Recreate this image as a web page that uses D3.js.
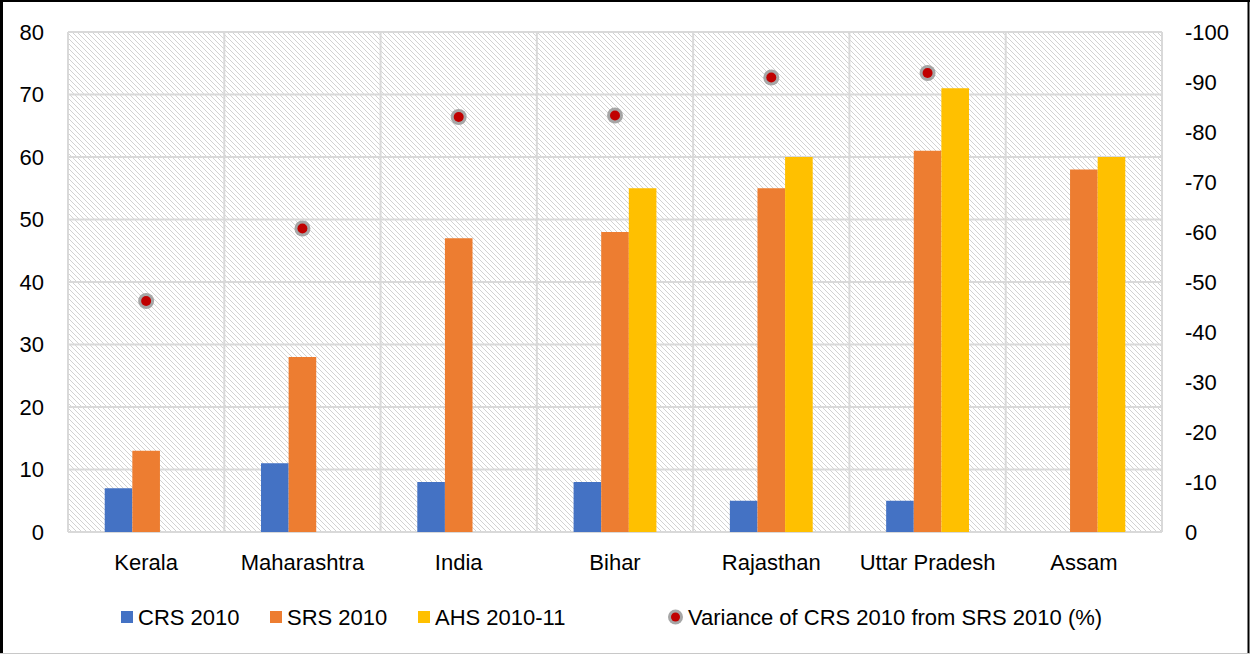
<!DOCTYPE html>
<html>
<head>
<meta charset="utf-8">
<script src="https://cdn.jsdelivr.net/npm/d3@7"></script>
<style>
  html, body { margin: 0; padding: 0; background: #fff; }
  svg { display: block; font-family: "Liberation Sans", Arial, sans-serif; }
</style>
</head>
<body>
<svg id="chart" width="1250" height="654"></svg>
<script>
// Neonatal / infant mortality estimates by source
const categories = ["Kerala", "Maharashtra", "India", "Bihar", "Rajasthan", "Uttar Pradesh", "Assam"];
const crs2010   = [7, 11, 8, 8, 5, 5, null];
const srs2010   = [13, 28, 47, 48, 55, 61, 58];
const ahs201011 = [null, null, null, 55, 60, 71, 60];
const variance  = [-46.2, -60.7, -83.0, -83.3, -90.9, -91.8, null];

const seriesNames = ["CRS 2010", "SRS 2010", "AHS 2010-11"];
const seriesValues = [crs2010, srs2010, ahs201011];
const seriesColors = ["#4472c4", "#ed7d31", "#ffc000"];
const varianceName = "Variance of CRS 2010 from SRS 2010 (%)";

const leftTicks = [0, 10, 20, 30, 40, 50, 60, 70, 80];
const rightTicks = [0, -10, -20, -30, -40, -50, -60, -70, -80, -90, -100];

const svg = d3.select("#chart");
const W = 1250, H = 654;
const plot = { left: 68, right: 1162, top: 32, bottom: 532 };

// outer frame
svg.append("line").attr("x1", 1.5).attr("y1", 0).attr("x2", 1.5).attr("y2", H).attr("stroke", "#000").attr("stroke-width", 3);
svg.append("line").attr("x1", 0).attr("y1", 1).attr("x2", W).attr("y2", 1).attr("stroke", "#000").attr("stroke-width", 2);
svg.append("line").attr("x1", 1248.5).attr("y1", 0).attr("x2", 1248.5).attr("y2", H).attr("stroke", "#000").attr("stroke-width", 2);
svg.append("line").attr("x1", 0).attr("y1", 653.5).attr("x2", W).attr("y2", 653.5).attr("stroke", "#c8c8c8").attr("stroke-width", 1);

// diagonal hatch for the plot background
const defs = svg.append("defs");
const pat = defs.append("pattern")
  .attr("id", "hatch").attr("patternUnits", "userSpaceOnUse")
  .attr("width", 5).attr("height", 5);
pat.append("path")
  .attr("d", "M0,0 L5,5 M-1,4 L1,6 M4,-1 L6,1")
  .attr("stroke", "#d2d2d2").attr("stroke-width", 1).attr("shape-rendering", "crispEdges");

const x0 = d3.scaleBand().domain(categories)
  .range([plot.left, plot.right]).paddingInner(0.47).paddingOuter(0.235);
const x1 = d3.scaleBand().domain(seriesNames).range([0, x0.bandwidth()]);
const xCat = d3.scaleBand().domain(categories).range([plot.left, plot.right]);
const yL = d3.scaleLinear().domain([0, 80]).range([plot.bottom, plot.top]);
const yR = d3.scaleLinear().domain([0, -100]).range([plot.bottom, plot.top]);

svg.append("rect")
  .attr("x", plot.left).attr("y", plot.top)
  .attr("width", plot.right - plot.left).attr("height", plot.bottom - plot.top)
  .attr("fill", "url(#hatch)");

// gridlines
const grid = svg.append("g").attr("stroke", "#d9d9d9").attr("stroke-width", 2);
leftTicks.forEach(t => {
  grid.append("line").attr("x1", plot.left).attr("x2", plot.right)
    .attr("y1", yL(t)).attr("y2", yL(t));
});
const bounds = categories.map(c => xCat(c)).concat([plot.right]);
bounds.forEach(b => {
  grid.append("line").attr("x1", b).attr("x2", b)
    .attr("y1", plot.top).attr("y2", plot.bottom);
});

// bars
categories.forEach((c, i) => {
  seriesNames.forEach((s, k) => {
    const v = seriesValues[k][i];
    if (v == null) return;
    svg.append("rect")
      .attr("x", x0(c) + x1(s)).attr("width", x1.bandwidth())
      .attr("y", yL(v)).attr("height", yL(0) - yL(v))
      .attr("fill", seriesColors[k]);
  });
});

// variance markers on the secondary axis
categories.forEach((c, i) => {
  const v = variance[i];
  if (v == null) return;
  const cx = xCat(c) + xCat.bandwidth() / 2;
  svg.append("circle").attr("cx", cx).attr("cy", yR(v)).attr("r", 8).attr("fill", "#a6a6a6");
  svg.append("circle").attr("cx", cx).attr("cy", yR(v)).attr("r", 5).attr("fill", "#c00000");
});

// axes (plain hyphen for negative numbers)
const fmt = d => String(d);
const axL = svg.append("g").attr("transform", `translate(${plot.left},0)`)
  .call(d3.axisLeft(yL).tickValues(leftTicks).tickFormat(fmt).tickSize(0).tickPadding(24));
const axR = svg.append("g").attr("transform", `translate(${plot.right},0)`)
  .call(d3.axisRight(yR).tickValues(rightTicks).tickFormat(fmt).tickSize(0).tickPadding(23));
const axB = svg.append("g").attr("transform", `translate(0,${plot.bottom})`)
  .call(d3.axisBottom(xCat).tickSize(0).tickPadding(22));
[axL, axR, axB].forEach(a => {
  a.select(".domain").remove();
  a.selectAll("text").attr("font-size", 22).attr("fill", "#000")
    .attr("font-family", "'Liberation Sans', Arial, sans-serif");
});

// legend
const legend = svg.append("g").attr("font-size", 22).attr("fill", "#000");
const legendX = [121, 270, 418];
seriesNames.forEach((s, k) => {
  legend.append("rect").attr("x", legendX[k]).attr("y", 611).attr("width", 12).attr("height", 12)
    .attr("fill", seriesColors[k]);
  legend.append("text").attr("x", legendX[k] + 17).attr("y", 625).text(s);
});
legend.append("circle").attr("cx", 675.5).attr("cy", 617).attr("r", 7.5).attr("fill", "#a6a6a6");
legend.append("circle").attr("cx", 675.5).attr("cy", 617).attr("r", 4.5).attr("fill", "#c00000");
legend.append("text").attr("x", 688).attr("y", 625).text(varianceName);
</script>
</body>
</html>
